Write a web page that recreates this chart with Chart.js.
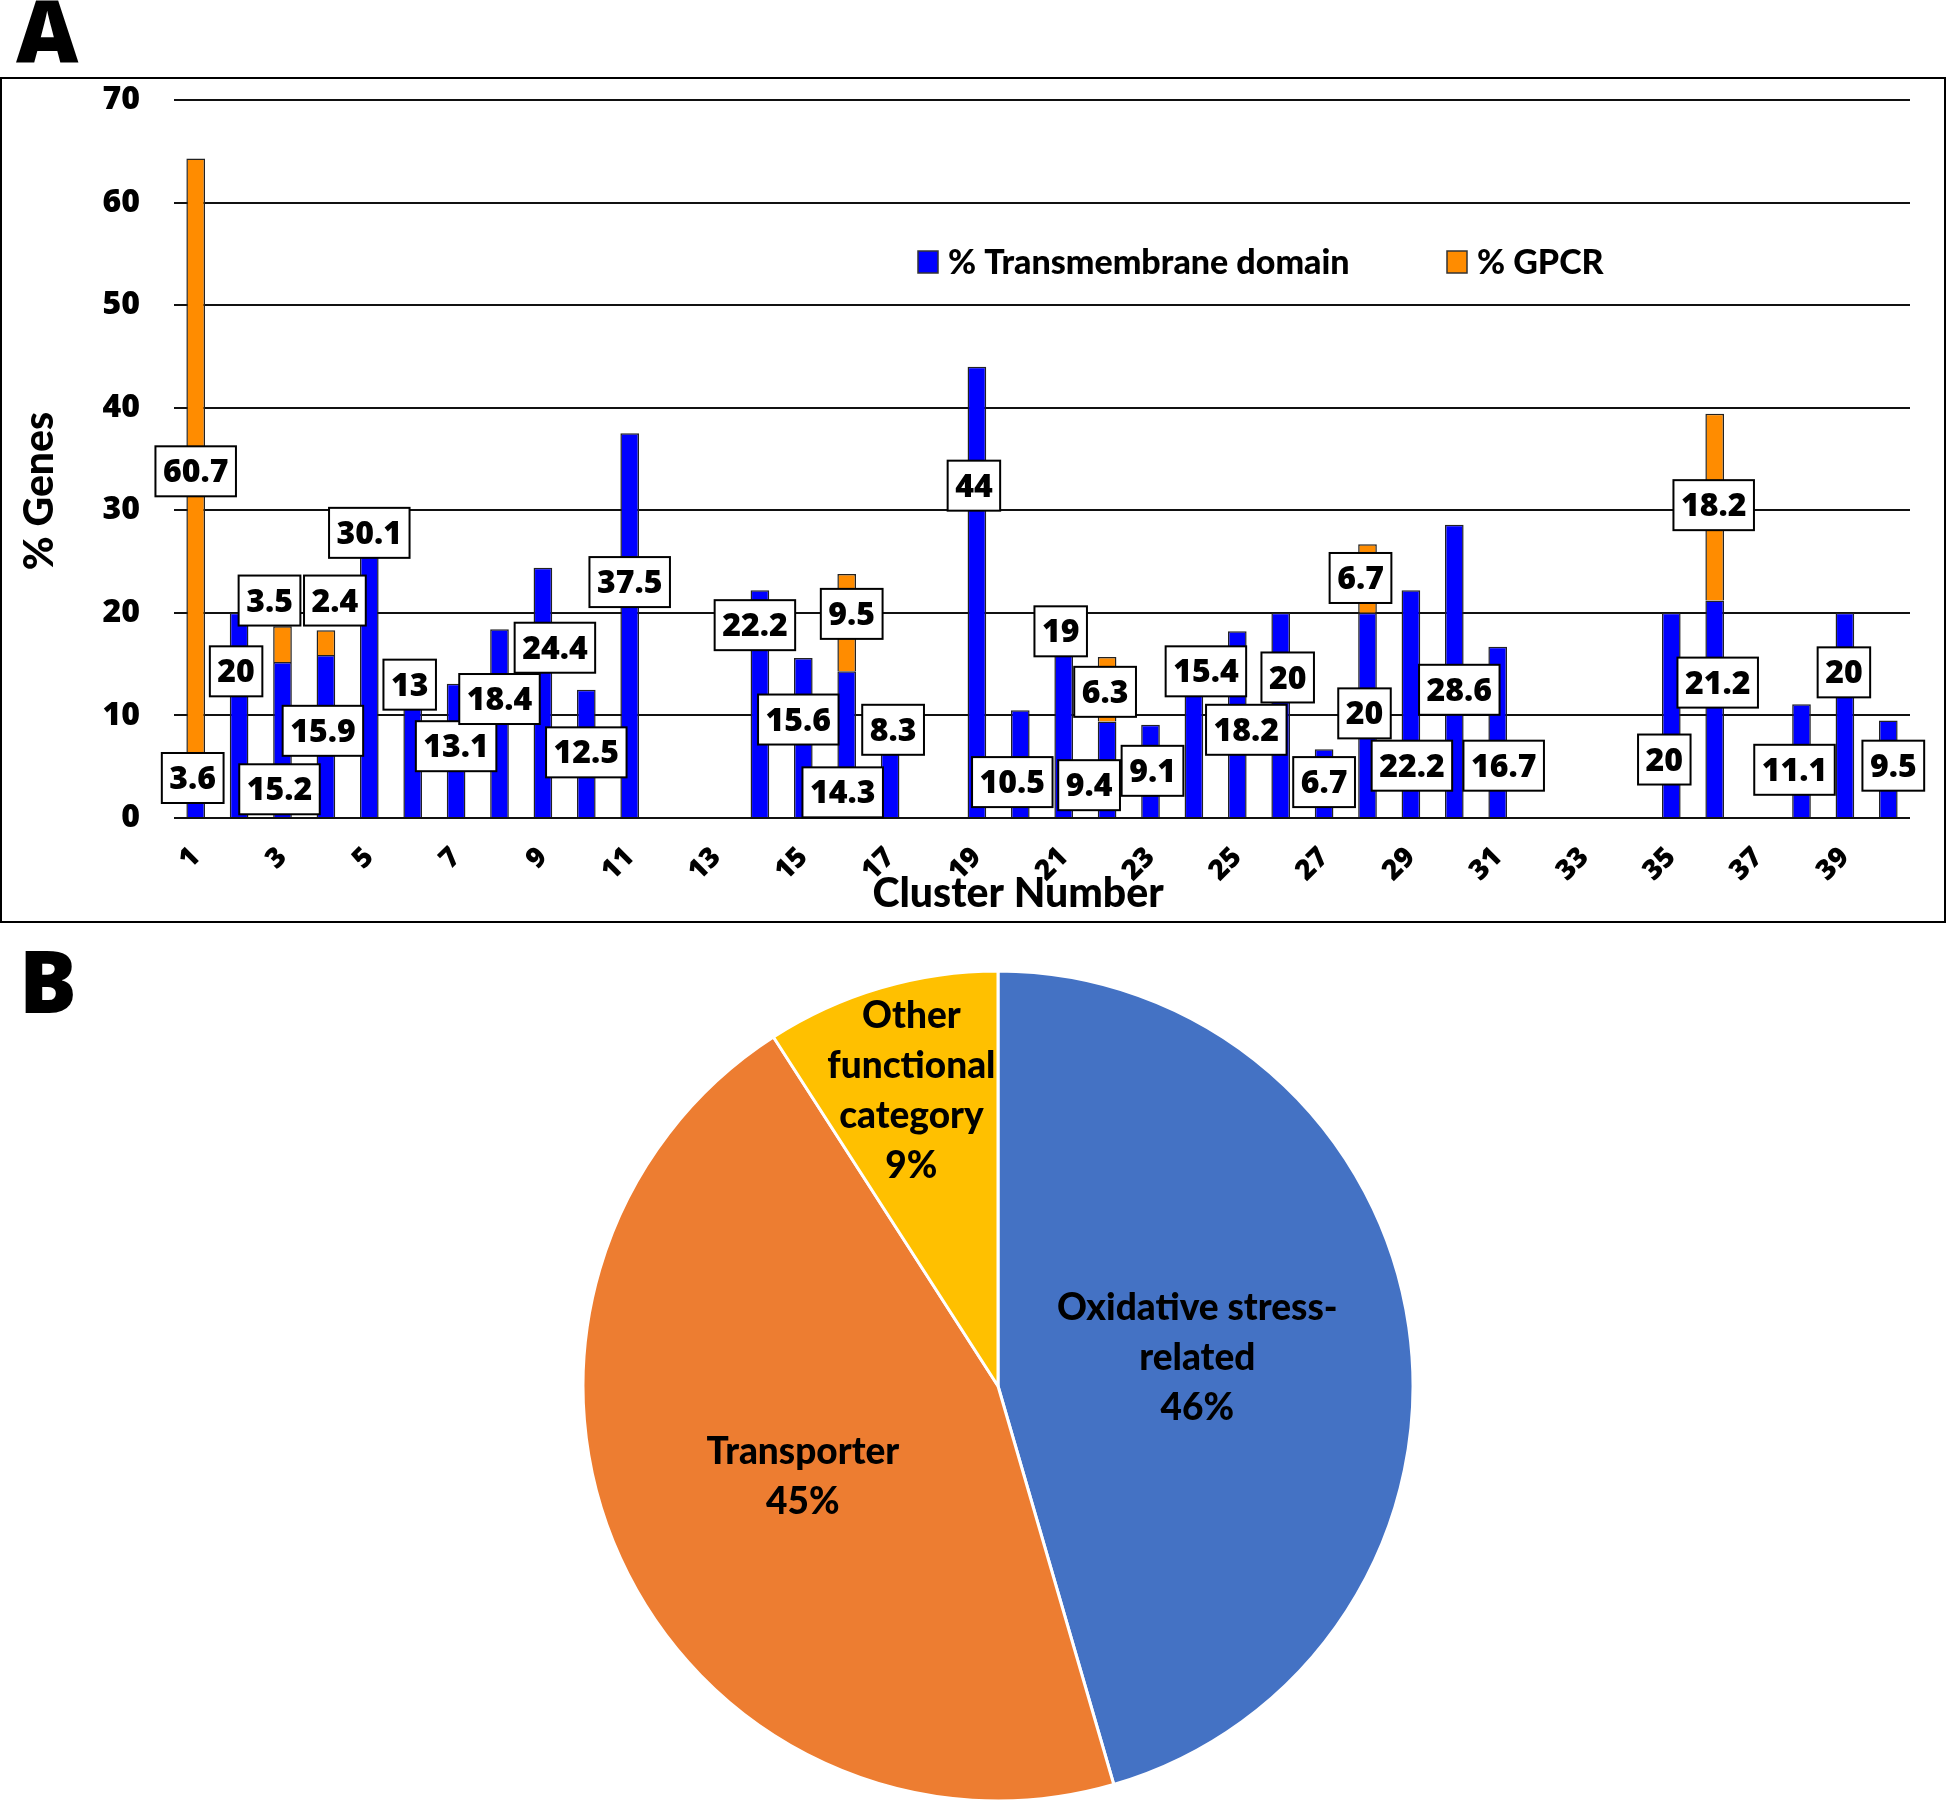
<!DOCTYPE html>
<html>
<head>
<meta charset="utf-8">
<script src="https://cdn.jsdelivr.net/npm/chart.js@4.4.1/dist/chart.umd.min.js"></script>
<style>
  body { margin: 0; width: 1947px; height: 1800px; overflow: hidden; background: #fff; position: relative; }
  .letter { position: absolute; font: 800 86px "Open Sans"; line-height: 1; color: #000; }
  #boxA { position: absolute; left: 0; top: 77px; width: 1946px; height: 846px; border: 2px solid #000; box-sizing: border-box; }
  #chartA { position: absolute; left: 0; top: 78px; }
  #chartB { position: absolute; left: 578px; top: 966px; }
</style>
</head>
<body>
<div class="letter" style="left:16px;top:-13px">A</div>
<div class="letter" style="left:19px;top:937px">B</div>
<div id="boxA"></div>
<canvas id="chartA" width="1947" height="844"></canvas>
<canvas id="chartB" width="840" height="840"></canvas>
<script>
// cluster numbers
const clusters = ["1","2","3","4","5","6","7","8","9","10","11","12","13","14","15","16","17","18","19","20",
                  "21","22","23","24","25","26","27","28","29","30","31","32","33","34","35","36","37","38","39","40"]
// % Transmembrane domain (blue), null = no bar
const tmDomain = [3.6, 20, 15.2, 15.9, 30.1, 13, 13.1, 18.4, 24.4, 12.5, 37.5, null, null, 22.2, 15.6, 14.3, 8.3, null, 44, 10.5,
                  19, 9.4, 9.1, 15.4, 18.2, 20, 6.7, 20, 22.2, 28.6, 16.7, null, null, null, 20, 21.2, null, 11.1, 20, 9.5]
// % GPCR (orange), stacked on top
const gpcr = [60.7, null, 3.5, 2.4, null, null, null, null, null, null, null, null, null, null, null, 9.5, null, null, null, null,
              null, 6.3, null, null, null, null, null, 6.7, null, null, null, null, null, null, null, 18.2, null, null, null, null]
const yTicks = [0, 10, 20, 30, 40, 50, 60, 70]

// pie (shares)
const pieNames = ["Oxidative stress-related", "Transporter", "Other functional category"]
const pieValues = [45.5, 45.4, 9.1]
const pieLines = [["Oxidative stress-", "related"], ["Transporter"], ["Other", "functional", "category"]]

// where the boxed labels sit: dx in px from the bar centre, y in axis units
const tmLabelDx = [-3,-3,-3,-3,0,-3,0,0,12,0,0,0,0,-5,-5,-4,3,0,-3,-8,-3,-18,2,12,9,7,0,-3,1,5,6,0,0,0,-7,3,0,-7,-1,5]
const tmLabelY = [3.9,14.3,2.8,8.5,27.8,13.0,7.0,11.6,16.6,6.4,23.0,0,0,18.8,9.6,2.5,8.6,0,32.4,3.5,
                  18.2,3.2,4.6,14.3,8.6,13.7,3.5,10.2,5.1,12.5,5.1,0,0,0,5.7,13.2,0,4.7,14.2,5.1]
const gpcrLabelDx = [0,0,-13,9,0,0,0,0,0,0,0,0,0,0,0,5,0,0,0,0,0,-2,0,0,0,0,0,-7,0,0,0,0,0,0,0,-1,0,0,0,0]
const gpcrLabelY = [33.8,0,21.2,21.2,0,0,0,0,0,0,0,0,0,0,0,19.9,0,0,0,0,0,12.3,0,0,0,0,0,23.4,0,0,0,0,0,0,0,30.5,0,0,0,0]
const labelPlace = [{dx: tmLabelDx, y: tmLabelY}, {dx: gpcrLabelDx, y: gpcrLabelY}]

const boxLabels = {
    id: 'boxLabels',
    afterDatasetsDraw(chart) {
        const ctx = chart.ctx
        const yScale = chart.scales.y
        ctx.save()
        ctx.font = '800 32px "Open Sans"'
        ctx.textAlign = 'center'
        ctx.textBaseline = 'middle'
        chart.data.datasets.forEach((ds, di) => {
            const meta = chart.getDatasetMeta(di)
            const place = labelPlace[di]
            ds.data.forEach((v, i) => {
                if (v == null) return
                const cx = meta.data[i].x + place.dx[i]
                const cy = yScale.getPixelForValue(place.y[i])
                const txt = String(v)
                const w = ctx.measureText(txt).width + 15
                const h = 50
                ctx.fillStyle = '#fff'
                ctx.fillRect(cx - w / 2, cy - h / 2, w, h)
                ctx.lineWidth = 2
                ctx.strokeStyle = '#000'
                ctx.strokeRect(cx - w / 2, cy - h / 2, w, h)
                ctx.fillStyle = '#000'
                ctx.fillText(txt, cx, cy + 2)
            })
        })
        ctx.restore()
    }
}

const legendAndTitles = {
    id: 'legendAndTitles',
    afterDraw(chart) {
        const ctx = chart.ctx
        ctx.save()
        // legend inside the plot
        const itemX = [918, 1447]
        ctx.font = '900 34px Lato'
        ctx.textBaseline = 'middle'
        ctx.textAlign = 'left'
        chart.data.datasets.forEach((ds, i) => {
            ctx.fillStyle = ds.backgroundColor
            ctx.fillRect(itemX[i], 173, 20, 22)
            ctx.lineWidth = 1.5
            ctx.strokeStyle = '#333'
            ctx.strokeRect(itemX[i], 173, 20, 22)
            ctx.fillStyle = '#000'
            ctx.fillText(ds.label, itemX[i] + 30, 185)
        })
        // axis titles
        ctx.font = '900 41px Lato'
        ctx.textAlign = 'center'
        ctx.fillText('Cluster Number', 1018, 816)
        ctx.translate(40, 413)
        ctx.rotate(-Math.PI / 2)
        ctx.fillText('% Genes', 0, 0)
        ctx.restore()
    }
}

new Chart(document.getElementById('chartA'), {
    type: 'bar',
    data: {
        labels: clusters,
        datasets: [
            { label: '% Transmembrane domain', data: tmDomain, backgroundColor: '#0000ff', borderColor: '#222', borderWidth: 1.5 },
            { label: '% GPCR', data: gpcr, backgroundColor: '#ff8c00', borderColor: '#222', borderWidth: 1.5 }
        ]
    },
    options: {
        responsive: false,
        animation: false,
        layout: { padding: { left: 0, right: 37, top: 22, bottom: 0 } },
        datasets: { bar: { barPercentage: 0.43, categoryPercentage: 1 } },
        plugins: { legend: { display: false }, tooltip: { enabled: false } },
        scales: {
            x: {
                stacked: true,
                grid: { display: false },
                border: { display: false },
                ticks: {
                    color: '#000', font: { family: 'Open Sans', weight: 800, size: 28 },
                    autoSkip: false, maxRotation: 45, minRotation: 45, padding: 15,
                    callback: (val, i) => i % 2 === 0 ? clusters[i] : ''
                },
                afterFit: s => { s.height = 104; s.paddingLeft = 0; s.paddingRight = 0 }
            },
            y: {
                stacked: true,
                min: 0, max: 70,
                afterBuildTicks: s => { s.ticks = yTicks.map(v => ({ value: v })) },
                grid: { color: '#111', lineWidth: 2, drawTicks: false },
                border: { display: false },
                ticks: { color: '#000', font: { family: 'Open Sans', weight: 800, size: 32 }, padding: 34 },
                afterFit: s => { s.width = 174; s.paddingTop = 0; s.paddingBottom = 0 }
            }
        }
    },
    plugins: [boxLabels, legendAndTitles]
})

const pieText = {
    id: 'pieText',
    afterDatasetsDraw(chart) {
        const ctx = chart.ctx
        const arcs = chart.getDatasetMeta(0).data
        const radiusFrac = [0.485, 0.53, 0.74]
        const total = pieValues.reduce((a, b) => a + b, 0)
        ctx.save()
        ctx.font = '900 37px Lato'
        ctx.textAlign = 'center'
        ctx.textBaseline = 'middle'
        ctx.fillStyle = '#000'
        arcs.forEach((arc, i) => {
            const mid = (arc.startAngle + arc.endAngle) / 2
            const r = arc.outerRadius * radiusFrac[i]
            const lines = pieLines[i].concat([Math.round(pieValues[i] / total * 100) + '%'])
            const lh = 50
            const cx = arc.x + Math.cos(mid) * r + (i === 1 ? 5 : 0)
            const cy = arc.y + Math.sin(mid) * r - (lines.length - 1) * lh / 2
            lines.forEach((t, k) => ctx.fillText(t, cx, cy + k * lh))
        })
        ctx.restore()
    }
}

new Chart(document.getElementById('chartB'), {
    type: 'pie',
    data: {
        labels: pieNames,
        datasets: [{ data: pieValues, backgroundColor: ['#4472c4', '#ed7d31', '#ffc000'], borderColor: '#fff', borderWidth: 3 }]
    },
    options: {
        responsive: false,
        animation: false,
        radius: 415,
        layout: { padding: 0 },
        plugins: { legend: { display: false }, tooltip: { enabled: false } }
    },
    plugins: [pieText]
})
</script>
</body>
</html>
